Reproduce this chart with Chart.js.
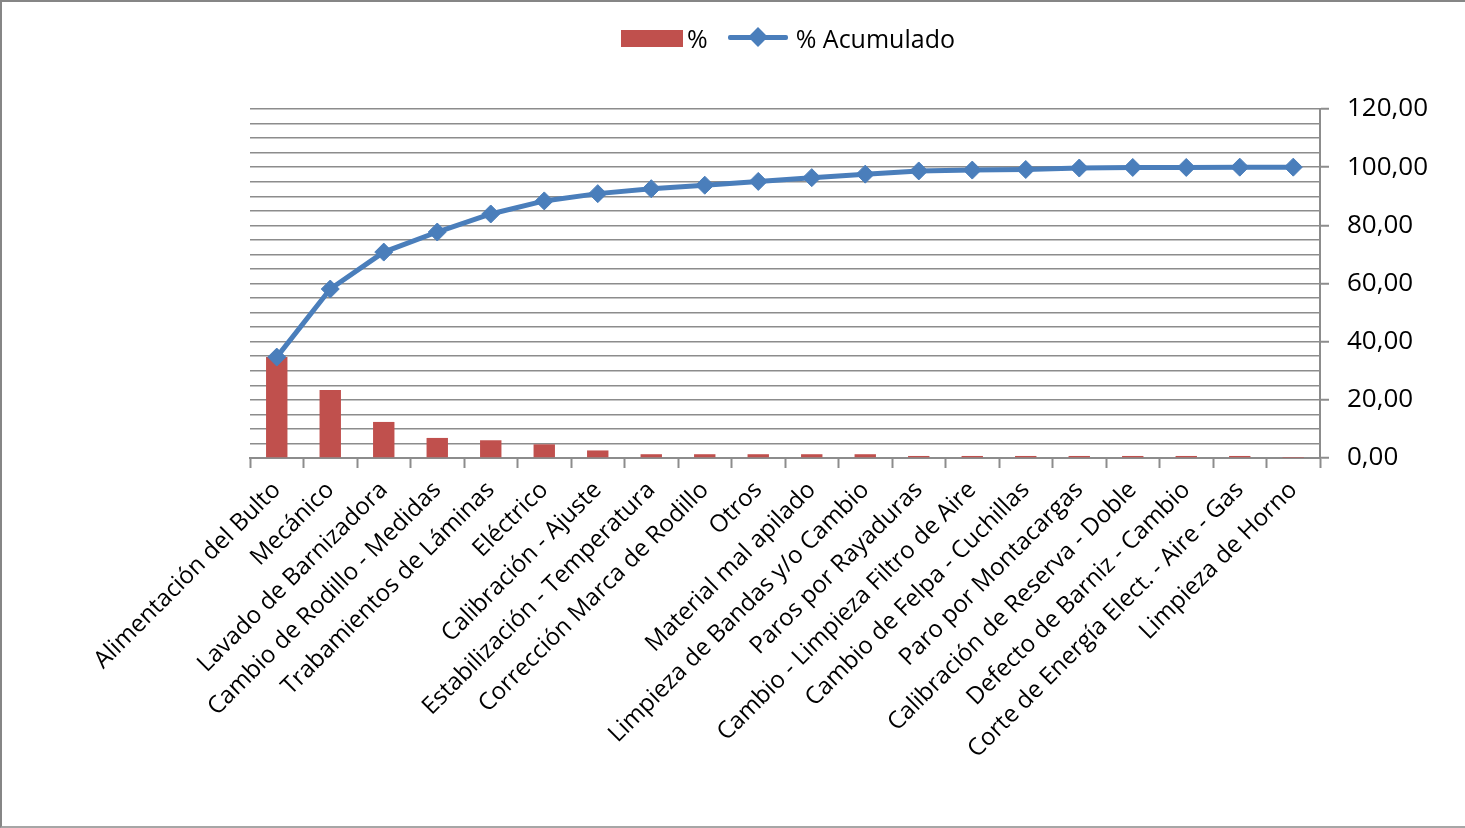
<!DOCTYPE html>
<html>
<head>
<meta charset="utf-8">
<script src="https://cdn.jsdelivr.net/npm/chart.js@4"></script>
<style>
    html, body { margin: 0; padding: 0; background: #fff; }
    #wrap { position: relative; width: 1465px; height: 828px; overflow: hidden; }
    #frame { position: absolute; left: 0; top: 0; width: 1465px; height: 828px; box-sizing: border-box;
        border-left: 2px solid #868686; border-top: 2px solid #868686; border-bottom: 2px solid #a6a6a6; pointer-events: none; }
    canvas { position: absolute; left: 0; top: 0; }
    #legend { position: absolute; top: 23px; left: 621px; height: 30px; display: flex; align-items: center;
        font-family: "Open Sans", sans-serif; font-size: 25px; color: #000; white-space: nowrap; }
    .swatch { width: 62px; height: 17px; background: #C0504D; margin-right: 4px; }
    .lineKey { position: relative; width: 60px; height: 30px; margin-left: 20px; margin-right: 8px; }
    .lineKey .bar { position: absolute; left: 0; top: 12px; width: 60px; height: 5px; background: #4A7EBB; border-radius: 2px; }
    .lineKey .dia { position: absolute; left: 23px; top: 7px; width: 14px; height: 14px; background: #4A7EBB; transform: rotate(45deg); }
</style>
</head>
<body>
<div id="wrap">
    <canvas id="pareto" width="1465" height="828"></canvas>
    <div id="legend">
        <div class="swatch"></div><span>%</span>
        <div class="lineKey"><div class="bar"></div><div class="dia"></div></div><span>% Acumulado</span>
    </div>
    <div id="frame"></div>
</div>
<script>
const categories = [
    "Alimentación del Bulto",
    "Mecánico",
    "Lavado de Barnizadora",
    "Cambio de Rodillo - Medidas",
    "Trabamientos de Láminas",
    "Eléctrico",
    "Calibración - Ajuste",
    "Estabilización - Temperatura",
    "Corrección Marca de Rodillo",
    "Otros",
    "Material mal apilado",
    "Limpieza de Bandas y/o Cambio",
    "Paros por Rayaduras",
    "Cambio - Limpieza Filtro de Aire",
    "Cambio de Felpa - Cuchillas",
    "Paro por Montacargas",
    "Calibración de Reserva - Doble",
    "Defecto de Barniz - Cambio",
    "Corte de Energía Elect. - Aire - Gas",
    "Limpieza de Horno"
];

const percent = [34.7, 23.4, 12.4, 6.9, 6.1, 4.7, 2.6, 1.3, 1.3, 1.3, 1.3, 1.3, 0.7, 0.7, 0.7, 0.7, 0.7, 0.7, 0.7, 0.1];
const cumulative = [34.7, 58.1, 70.8, 77.7, 83.9, 88.4, 90.9, 92.6, 93.8, 95.1, 96.4, 97.6, 98.7, 99.0, 99.2, 99.7, 99.9, 99.9, 100.0, 100.0];

const yMin = 0, yMax = 120, yMinorStep = 5, yLabelStep = 20;

const gridGrey = '#8c8c8c';

const ctx = document.getElementById('pareto').getContext('2d');

new Chart(ctx, {
    data: {
        labels: categories,
        datasets: [
            {
                type: 'line',
                label: '% Acumulado',
                data: cumulative,
                borderColor: '#4A7EBB',
                backgroundColor: '#4A7EBB',
                borderWidth: 5,
                pointStyle: 'rectRot',
                pointRadius: 9,
                pointBorderWidth: 1,
                pointBackgroundColor: '#4A7EBB',
                pointBorderColor: '#4A7EBB',
                tension: 0,
                order: 0
            },
            {
                type: 'bar',
                label: '%',
                data: percent,
                backgroundColor: '#C0504D',
                borderWidth: 0,
                categoryPercentage: 1,
                barPercentage: 0.4,
                order: 1
            }
        ]
    },
    options: {
        responsive: false,
        animation: false,
        layout: { padding: { left: 250, top: 109, right: 0, bottom: 0 } },
        scales: {
            x: {
                offset: true,
                grid: {
                    offset: true,
                    drawOnChartArea: false,
                    drawTicks: true,
                    tickLength: 10,
                    tickWidth: 2,
                    tickColor: gridGrey
                },
                border: { display: true, color: gridGrey, width: 2 },
                ticks: {
                    autoSkip: false,
                    maxRotation: 45,
                    minRotation: 45,
                    padding: 8,
                    color: '#000',
                    font: { family: 'Open Sans', size: 24 }
                },
                afterFit(scale) { scale.height = 370; }
            },
            y: {
                position: 'right',
                min: yMin,
                max: yMax,
                grid: {
                    color: gridGrey,
                    lineWidth: 1.5,
                    drawTicks: true,
                    tickLength: 9,
                    tickWidth: 2,
                    tickColor: (c) => (c.tick && c.tick.value % yLabelStep === 0) ? gridGrey : 'rgba(0,0,0,0)'
                },
                border: { display: true, color: gridGrey, width: 2 },
                ticks: {
                    stepSize: yMinorStep,
                    autoSkip: false,
                    padding: 18,
                    color: '#000',
                    font: { family: 'Open Sans', size: 26 },
                    callback: (v) => (v % yLabelStep === 0) ? v.toFixed(2).replace('.', ',') : ''
                },
                afterFit(scale) { scale.width = 145; }
            }
        },
        plugins: {
            legend: { display: false },
            tooltip: { enabled: false }
        }
    }
});
</script>
</body>
</html>
